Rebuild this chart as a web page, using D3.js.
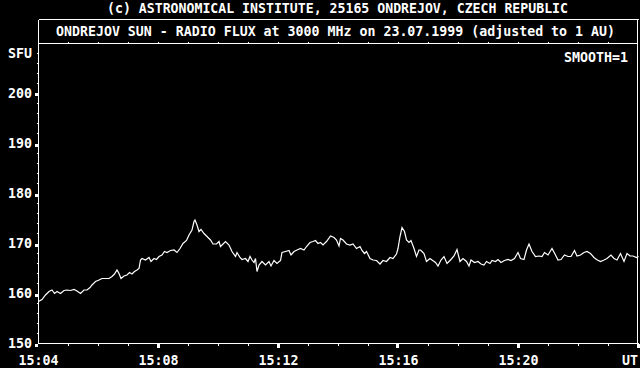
<!DOCTYPE html>
<html>
<head>
<meta charset="utf-8">
<script src="https://cdn.jsdelivr.net/npm/d3@7"></script>
<style>
  body { margin: 0; background: #000; }
  svg { display: block; background: #000; }
  text { font-family: "DejaVu Sans Mono", "Liberation Mono", monospace; font-weight: bold; font-size: 13.3px; fill: #fff; }
</style>
</head>
<body>
<svg id="chart" width="640" height="368"></svg>
<script>
var titleTop = "(c) ASTRONOMICAL INSTITUTE, 25165 ONDREJOV, CZECH REPUBLIC";
var titleBox = "ONDREJOV SUN - RADIO FLUX at 3000 MHz on 23.07.1999 (adjusted to 1 AU)";
var smoothLabel = "SMOOTH=1";
var unitLabel = "SFU";

var yMajor = [150, 160, 170, 180, 190, 200];
var xMajorSec = [0, 240, 480, 720, 960, 1200];
var xMajorLabels = ["15:04", "15:08", "15:12", "15:16", "15:20", "UT"];

// seconds after 15:04:00 UT
var seconds = [0, 7, 14, 21, 27, 32, 37, 44, 51, 57, 64, 71, 77, 84, 91, 97, 103, 107, 114, 121,
  127, 134, 141, 147, 152, 157, 161, 165, 171, 177, 182, 187, 192, 197, 201, 204, 207, 214, 221, 225,
  231, 236, 241, 247, 252, 257, 264, 271, 277, 283, 289, 296, 301, 307, 311, 313, 317, 321, 325, 331,
  337, 344, 349, 356, 361, 364, 374, 381, 387, 394, 397, 403, 407, 414, 419, 423, 427, 431, 434, 437,
  441, 447, 454, 461, 465, 471, 477, 484, 487, 494, 501, 505, 511, 517, 524, 531, 536, 543, 549, 554,
  559, 564, 569, 576, 584, 591, 596, 601, 604, 609, 616, 623, 629, 636, 643, 647, 652, 656, 663, 669,
  676, 683, 689, 696, 703, 709, 716, 719, 723, 727, 732, 736, 741, 745, 751, 756, 761, 764, 767, 771,
  776, 783, 787, 794, 799, 805, 811, 817, 824, 831, 837, 843, 849, 856, 861, 865, 872, 879, 885, 891,
  896, 903, 907, 914, 919, 925, 932, 939, 945, 952, 959, 964, 971, 976, 981, 987, 994, 1001, 1007, 1012,
  1019, 1027, 1034, 1039, 1045, 1052, 1059, 1065, 1072, 1077, 1084, 1091, 1097, 1104, 1111, 1116, 1124, 1131, 1137, 1145,
  1151, 1157, 1164, 1171, 1177, 1183, 1189, 1196, 1200];

// radio flux, SFU
var flux = [158.4, 158.8, 159.7, 160.4, 160.7, 160.0, 160.4, 160.0, 160.6, 160.7, 160.6, 160.8, 160.5, 160.0, 160.7, 160.7, 161.2, 161.7, 162.4, 162.7,
  163.0, 163.0, 163.0, 163.4, 163.9, 164.7, 164.0, 163.0, 163.5, 163.7, 164.2, 163.9, 164.4, 164.7, 165.0, 166.7, 167.0, 166.7, 167.2, 166.4,
  167.0, 166.8, 167.4, 167.7, 168.4, 168.2, 168.6, 168.7, 168.2, 169.0, 170.0, 170.6, 171.7, 172.7, 174.4, 174.7, 173.7, 172.4, 172.8, 172.0,
  171.4, 170.7, 169.9, 169.9, 170.4, 169.4, 170.4, 169.7, 168.4, 167.4, 168.2, 167.2, 166.8, 167.0, 166.4, 167.4, 166.7, 166.2, 167.0, 164.4,
  165.7, 166.4, 165.7, 166.4, 165.5, 166.6, 166.0, 166.6, 168.2, 168.4, 168.6, 167.7, 168.4, 168.7, 169.0, 168.7, 169.4, 170.2, 170.4, 170.6,
  170.0, 170.2, 169.7, 170.4, 171.5, 171.2, 170.7, 169.5, 171.0, 170.7, 169.9, 169.7, 169.9, 169.0, 169.4, 168.6, 168.0, 168.4, 167.0, 166.7,
  166.6, 165.9, 166.6, 166.4, 167.2, 167.0, 167.9, 169.0, 171.4, 173.2, 172.4, 170.7, 170.2, 170.6, 169.0, 167.4, 168.7, 168.7, 168.4, 168.0,
  166.4, 167.0, 166.7, 166.2, 165.5, 166.7, 167.4, 166.0, 166.7, 167.5, 168.8, 166.4, 167.0, 166.4, 165.5, 166.7, 166.2, 166.4, 165.9, 165.7,
  166.4, 166.0, 166.6, 166.4, 166.8, 166.2, 166.6, 166.8, 166.6, 167.0, 168.2, 167.0, 166.8, 168.7, 169.9, 168.4, 167.4, 167.5, 167.4, 168.2,
  167.7, 169.0, 167.7, 166.7, 166.8, 167.7, 167.4, 167.4, 168.6, 167.5, 167.7, 168.2, 168.4, 168.0, 167.2, 166.8, 166.4, 166.7, 167.0, 167.7,
  167.0, 166.7, 168.0, 166.4, 168.0, 167.5, 167.5, 167.2, 167.4];

var svg = d3.select("#chart");

var x = d3.scaleLinear().domain([0, 1200]).range([38.5, 638.5]);
var y = d3.scaleLinear().domain([150, 210]).range([343.5, 43.5]);

var frameLeft = 38.5, frameRight = 637.5, boxTop = 19.5, plotTop = 43.5, plotBottom = 343.5;

// frame + title box
var frame = svg.append("g").attr("stroke", "#fff").attr("stroke-width", 1).attr("shape-rendering", "crispEdges");
frame.append("line").attr("x1", frameLeft).attr("x2", frameLeft).attr("y1", boxTop).attr("y2", plotBottom);
frame.append("line").attr("x1", frameRight).attr("x2", frameRight).attr("y1", boxTop).attr("y2", plotBottom);
frame.append("line").attr("x1", frameLeft).attr("x2", frameRight + 1).attr("y1", boxTop).attr("y2", boxTop);
frame.append("line").attr("x1", frameLeft).attr("x2", frameRight).attr("y1", plotTop).attr("y2", plotTop);
frame.append("line").attr("x1", frameLeft).attr("x2", frameRight + 1).attr("y1", plotBottom).attr("y2", plotBottom);

// y ticks
var yMinor = d3.range(150, 210, 2).filter(function (v) { return yMajor.indexOf(v) === -1; });
frame.selectAll(".ymin").data(yMinor).enter().append("line")
  .attr("x1", frameLeft - 2).attr("x2", frameLeft)
  .attr("y1", function (d) { return y(d); }).attr("y2", function (d) { return y(d); });
svg.selectAll(".ymaj").data(yMajor).enter().append("rect")
  .attr("x", 35).attr("width", 3).attr("height", 3)
  .attr("y", function (d) { return Math.round(y(d)); })
  .attr("fill", "#fff").attr("shape-rendering", "crispEdges");
svg.selectAll(".ylab").data(yMajor).enter().append("text")
  .attr("x", 32).attr("y", function (d) { return y(d) + 4.5; })
  .attr("text-anchor", "end").text(function (d) { return d; });
svg.append("text").attr("x", 32).attr("y", y(208) + 4).attr("text-anchor", "end").text(unitLabel);

// x ticks
var xMinor = d3.range(60, 1200, 60).filter(function (v) { return xMajorSec.indexOf(v) === -1; });
frame.selectAll(".xmin").data(xMinor).enter().append("line")
  .attr("x1", function (d) { return x(d); }).attr("x2", function (d) { return x(d); })
  .attr("y1", plotBottom).attr("y2", plotBottom + 2);
frame.selectAll(".xtop").data(d3.range(60, 1200, 60)).enter().append("line")
  .attr("x1", function (d) { return x(d); }).attr("x2", function (d) { return x(d); })
  .attr("y1", plotTop - 2).attr("y2", plotTop);
svg.selectAll(".xmaj").data(xMajorSec.slice(1)).enter().append("rect")
  .attr("x", function (d) { return Math.round(x(d)) - 2; }).attr("width", 3)
  .attr("y", 344).attr("height", 4)
  .attr("fill", "#fff").attr("shape-rendering", "crispEdges");
svg.selectAll(".xlab").data(xMajorSec).enter().append("text")
  .attr("x", function (d, i) { return i === xMajorSec.length - 1 ? 638 : x(d); })
  .attr("y", 365)
  .attr("text-anchor", function (d, i) { return i === xMajorSec.length - 1 ? "end" : "middle"; })
  .text(function (d, i) { return xMajorLabels[i]; });

// titles
svg.append("text").attr("x", 337.5).attr("y", 13).attr("text-anchor", "middle")
  .attr("textLength", 461).attr("lengthAdjust", "spacingAndGlyphs").text(titleTop);
svg.append("text").attr("x", 335.5).attr("y", 36).attr("text-anchor", "middle")
  .attr("textLength", 559).attr("lengthAdjust", "spacingAndGlyphs").text(titleBox);
svg.append("text").attr("x", 628).attr("y", 62).attr("text-anchor", "end").text(smoothLabel);

// flux trace
var pts = seconds.map(function (s, i) { return { s: s, v: flux[i] }; });
var line = d3.line().x(function (d) { return x(d.s); }).y(function (d) { return y(d.v); });
svg.append("path").datum(pts).attr("d", line)
  .attr("fill", "none").attr("stroke", "#fff").attr("stroke-width", 1.2);
</script>
</body>
</html>
